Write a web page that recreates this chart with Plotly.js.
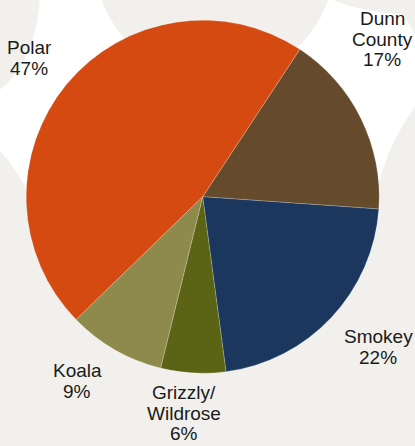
<!DOCTYPE html>
<html>
<head>
<meta charset="utf-8">
<script src="https://cdn.plot.ly/plotly-3.0.1.min.js"></script>
<style>html,body{margin:0;padding:0;background:#F1F0EC;}#chart{width:415px;height:446px;}</style>
</head>
<body>
<div id="chart"></div>
<script>
// ---- data ----
var categories = ["Dunn County", "Smokey", "Grizzly/Wildrose", "Koala", "Polar"];
var labelLines = [["Dunn", "County"], ["Smokey"], ["Grizzly/", "Wildrose"], ["Koala"], ["Polar"]];
var values = [17, 22, 6, 9, 47];
var percentLabels = ["17%", "22%", "6%", "9%", "47%"];
var colors = ["#654A2B", "#1B375E", "#5B6415", "#8E8A4B", "#D44A11"];

// ---- layout helpers (pixel -> paper) ----
var W = 415, H = 446;
function px(x) { return x / W; }
function py(y) { return 1 - y / H; }

// label block centres (pixels) – layout, not data
var labelCenters = [[382, 39], [378, 347], [184, 413], [77, 381], [29, 58]];
var lineGap = 20.5;

var annotations = [];
categories.forEach(function (c, i) {
  var lines = labelLines[i].concat([percentLabels[i]]);
  var n = lines.length;
  lines.forEach(function (t, j) {
    annotations.push({
      xref: "paper", yref: "paper",
      x: px(labelCenters[i][0]),
      y: py(labelCenters[i][1] + (j - (n - 1) / 2) * lineGap),
      text: t, showarrow: false,
      xanchor: "center", yanchor: "middle",
      font: {family: "Liberation Sans, Arial, sans-serif", size: 19, color: "#1a1a1a"}
    });
  });
});

function ell(cx, cy, rx, ry, col) {
  return {type: "circle", xref: "paper", yref: "paper", layer: "below",
    x0: px(cx - rx), x1: px(cx + rx), y0: py(cy + ry), y1: py(cy - ry),
    fillcolor: col, line: {width: 0}};
}
var bg = "#F1F0EC";
var shapes = [
  ell(205, 140, 235, 235, "#FFFFFF"),
  ell(-30, -10, 70, 110, bg),
  ell(215, -40, 120, 120, bg),
  ell(420, -40, 127, 55, bg),
  ell(520, 250, 150, 200, bg),
  ell(-100, 330, 160, 230, bg),
  {type: "rect", xref: "paper", yref: "paper", layer: "below",
    x0: 0, x1: 1, y0: 0, y1: py(238), fillcolor: bg, line: {width: 0}}
];

var cx = 202.7, cy = 196.7, r = 176.5;
var trace = {
  type: "pie",
  labels: categories,
  values: values,
  sort: false,
  direction: "clockwise",
  rotation: 33.4,
  textinfo: "none",
  hoverinfo: "label+percent",
  marker: {colors: colors, line: {color: "rgba(255,255,255,0.35)", width: 0.6}},
  domain: {x: [px(cx - r), px(cx + r)], y: [py(cy + r), py(cy - r)]},
  showlegend: false
};

var layout = {
  width: W, height: H,
  margin: {l: 0, r: 0, t: 0, b: 0},
  paper_bgcolor: bg,
  plot_bgcolor: bg,
  showlegend: false,
  shapes: shapes,
  annotations: annotations
};

Plotly.newPlot("chart", [trace], layout, {displayModeBar: false, staticPlot: true});
</script>
</body>
</html>
